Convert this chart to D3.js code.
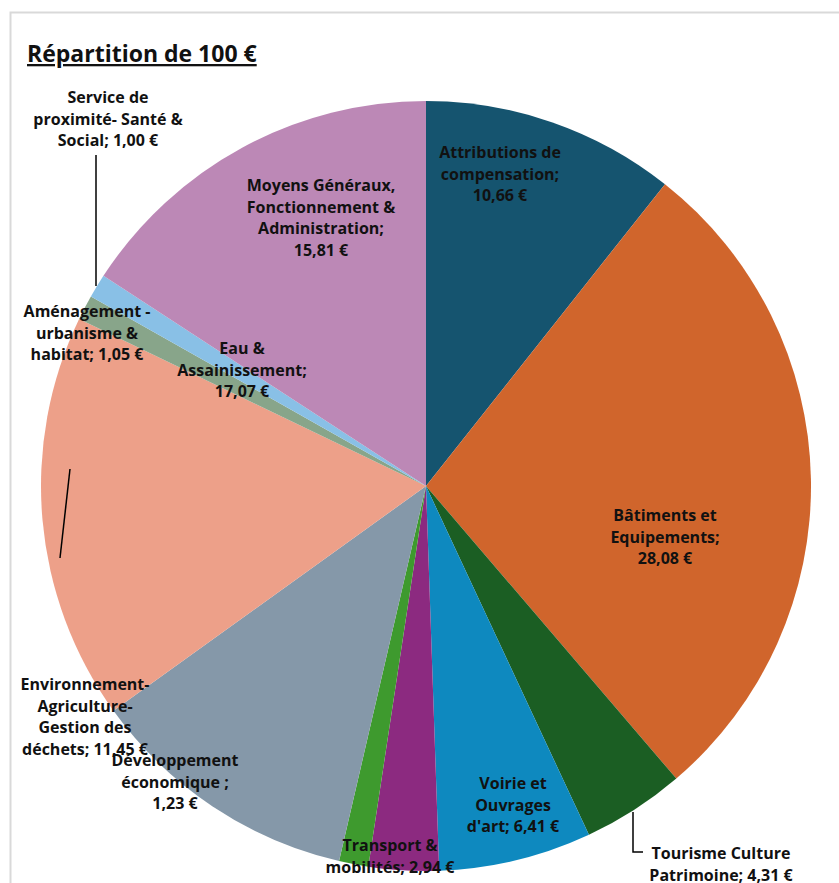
<!DOCTYPE html>
<html>
<head>
<meta charset="utf-8">
<script src="https://cdn.jsdelivr.net/npm/d3@7"></script>
<style>
  body { margin: 0; background: #fff; }
  text { font-family: 'Open Sans', sans-serif; font-weight: 700; fill: #111; }
</style>
</head>
<body>
<div id="chart"></div>
<script>
// data (clockwise from 12 o'clock)
var categories = [
  'Attributions de compensation', 'Bâtiments et Equipements', 'Tourisme Culture Patrimoine',
  'Voirie et Ouvrages d\'art', 'Transport & mobilités', 'Développement économique',
  'Environnement-Agriculture-Gestion des déchets', 'Eau & Assainissement',
  'Aménagement-urbanisme & habitat', 'Service de proximité-Santé & Social',
  'Moyens Généraux, Fonctionnement & Administration'
];
var values = [10.66, 28.08, 4.31, 6.41, 2.94, 1.23, 11.45, 17.07, 1.05, 1.00, 15.81];
var colors = ['#15546f', '#d0652c', '#1b5e23', '#0e89bf', '#8c2a80', '#3e9a2e',
  '#8598a9', '#eda089', '#88a58a', '#89c0e6', '#bc88b6'];
var labelLines = [
  ['Attributions de', 'compensation;', '10,66 €'],
  ['Bâtiments et', 'Equipements;', '28,08 €'],
  ['Tourisme Culture', 'Patrimoine; 4,31 €'],
  ['Voirie et', 'Ouvrages', 'd\'art; 6,41 €'],
  ['Transport &', 'mobilités; 2,94 €'],
  ['Développement', 'économique ;', '1,23 €'],
  ['Environnement-', 'Agriculture-', 'Gestion des', 'déchets; 11,45 €'],
  ['Eau &', 'Assainissement;', '17,07 €'],
  ['Aménagement -', 'urbanisme &', 'habitat; 1,05 €'],
  ['Service de', 'proximité- Santé &', 'Social; 1,00 €'],
  ['Moyens Généraux,', 'Fonctionnement &', 'Administration;', '15,81 €']
];

var W = 839, H = 883;
var cx = 426, cy = 486, R = 385;
var lineH = 21.5;
// label centre (x, first baseline) per slice
var labelAt = [
  [500, 158], [665, 521], [721, 859], [513, 789], [390, 851], [175, 766],
  [85, 690], [242, 354], [87, 317], [108, 103], [321, 191]
];

var svg = d3.select('#chart').append('svg')
  .attr('width', W)
  .attr('height', H);

// chart frame
svg.append('rect')
  .attr('x', 10.5).attr('y', 12.5)
  .attr('width', W).attr('height', H)
  .attr('fill', 'none')
  .attr('stroke', '#d9d9d9')
  .attr('stroke-width', 2);

svg.append('text')
  .attr('x', 27).attr('y', 62)
  .attr('font-size', 23)
  .style('text-decoration', 'underline')
  .text('Répartition de 100 €');

var pie = d3.pie().sort(null).value(function(d) { return d; });
var arc = d3.arc().innerRadius(0).outerRadius(R);

var g = svg.append('g')
  .attr('transform', 'translate(' + cx + ',' + cy + ')');

g.selectAll('path.slice')
  .data(pie(values))
  .enter().append('path')
  .attr('class', 'slice')
  .attr('d', arc)
  .attr('fill', function(d, i) { return colors[i]; });

// leader lines
var leaders = [
  [[633, 812], [633, 852], [643, 852]],
  [[96, 155], [96, 286]],
  [[70, 469], [60, 558]]
];
svg.selectAll('path.leader')
  .data(leaders)
  .enter().append('path')
  .attr('class', 'leader')
  .attr('d', d3.line())
  .attr('fill', 'none')
  .attr('stroke', '#000')
  .attr('stroke-width', 1.5);

var labels = svg.selectAll('text.lbl')
  .data(labelLines)
  .enter().append('text')
  .attr('class', 'lbl')
  .attr('font-size', 16)
  .attr('text-anchor', 'middle');

labels.each(function(lines, i) {
  var t = d3.select(this);
  lines.forEach(function(s, k) {
    t.append('tspan')
      .attr('x', labelAt[i][0])
      .attr('y', labelAt[i][1] + k * lineH)
      .text(s);
  });
});
</script>
</body>
</html>
